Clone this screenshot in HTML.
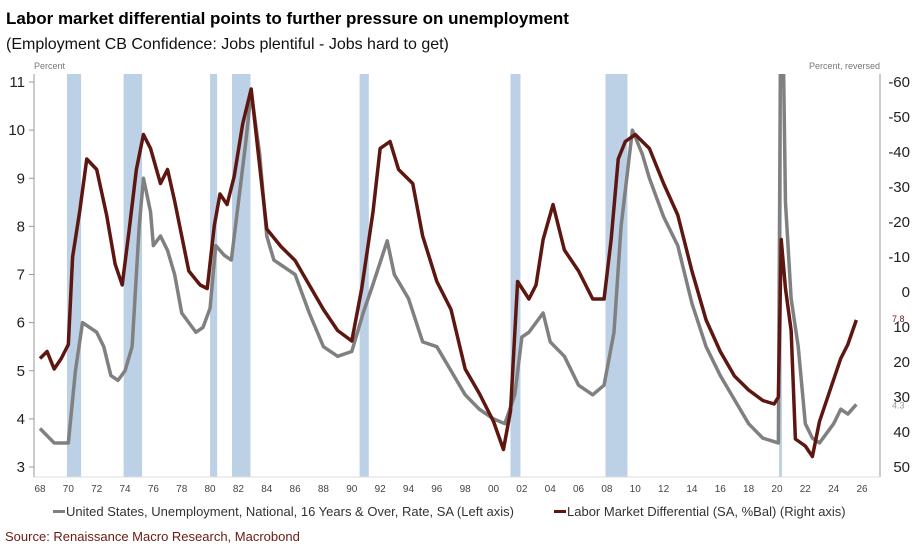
<!DOCTYPE html>
<html><head><meta charset="utf-8">
<style>
body{margin:0;background:#fff;width:916px;height:555px;overflow:hidden;font-family:"Liberation Sans",sans-serif;}
svg{position:absolute;left:0;top:0}
</style></head>
<body>
<svg id="chart" width="916" height="555">
<text x="6" y="24" font-size="17" font-weight="bold" fill="#000">Labor market differential points to further pressure on unemployment</text>
<text x="6" y="49" font-size="16" fill="#111">(Employment CB Confidence: Jobs plentiful - Jobs hard to get)</text>
<text x="34" y="69" font-size="9" fill="#777">Percent</text>
<text x="880" y="69" font-size="9" fill="#777" text-anchor="end">Percent, reversed</text>
<g id="bands"></g>
<g id="axes"></g>
<g id="lines"></g>
<g>
<rect x="53" y="510" width="12" height="3" fill="#808080"/>
<text x="66" y="516" font-size="13" fill="#333">United States, Unemployment, National, 16 Years &amp; Over, Rate, SA (Left axis)</text>
<rect x="554" y="510" width="12" height="3" fill="#5e1710"/>
<text x="567" y="516" font-size="13" fill="#333">Labor Market Differential (SA, %Bal) (Right axis)</text>
</g>
<text x="5" y="541" font-size="13" fill="#6b1a12">Source: Renaissance Macro Research, Macrobond</text>
</svg>
<script>
const recStart=[1969.9,1973.9,1980.0,1981.55,1990.55,2001.2,2007.9,2020.15];
const recEnd=[1970.9,1975.2,1980.5,1982.85,1991.2,2001.9,2009.45,2020.35];
const unempYears=[1968,1969,1970,1970.5,1971,1971.5,1972,1972.5,1973,1973.5,1974,1974.5,1975,1975.3,1975.8,1976,1976.5,1977,1977.5,1978,1978.5,1979,1979.5,1980,1980.4,1981,1981.5,1982,1982.5,1982.9,1983.5,1984,1984.5,1985,1985.5,1986,1987,1988,1989,1990,1990.8,1991.5,1992.5,1993,1994,1995,1996,1997,1998,1999,2000,2000.8,2001.5,2002,2002.5,2003.5,2004,2005,2006,2007,2007.8,2008.5,2009,2009.8,2010.5,2011,2012,2013,2014,2015,2016,2017,2018,2019,2020.1,2020.3,2020.6,2021,2021.5,2022,2022.5,2023,2023.5,2024,2024.5,2025,2025.6];
const unempVals=[3.8,3.5,3.5,5.0,6.0,5.9,5.8,5.5,4.9,4.8,5.0,5.5,8.0,9.0,8.3,7.6,7.8,7.5,7.0,6.2,6.0,5.8,5.9,6.3,7.6,7.4,7.3,8.5,9.7,10.8,9.5,7.8,7.3,7.2,7.1,7.0,6.2,5.5,5.3,5.4,6.2,6.8,7.7,7.0,6.5,5.6,5.5,5.0,4.5,4.2,4.0,3.9,4.5,5.7,5.8,6.2,5.6,5.3,4.7,4.5,4.7,5.8,8.0,10.0,9.5,9.0,8.2,7.6,6.4,5.5,4.9,4.4,3.9,3.6,3.5,14.7,8.5,6.5,5.5,3.9,3.6,3.5,3.7,3.9,4.2,4.1,4.3];
const diffYears=[1968,1968.5,1969,1969.5,1970,1970.3,1970.8,1971.3,1972,1972.7,1973.3,1973.8,1974.3,1974.8,1975.3,1975.8,1976.5,1977,1977.5,1978.5,1979.3,1979.8,1980.3,1980.7,1981.2,1981.7,1982.3,1982.9,1983.5,1984,1985,1986,1987,1988,1989,1990,1990.7,1991.5,1992,1992.7,1993.3,1994.3,1995,1996,1997,1998,1999,2000,2000.7,2001.2,2001.7,2002.5,2003,2003.5,2004.2,2005,2006,2007,2007.8,2008.3,2008.8,2009.3,2010,2011,2012,2013,2014,2015,2016,2017,2018,2019,2019.8,2020.1,2020.3,2020.6,2021,2021.3,2022,2022.5,2023,2023.5,2024,2024.5,2025,2025.6];
const diffVals=[19,17,22,19,15,-10,-23,-38,-35,-22,-8,-2,-18,-35,-45,-41,-31,-35,-26,-6,-2,-1,-19,-28,-25,-33,-48,-58,-36,-18,-13,-9,-2,5,11,14,-1,-23,-41,-43,-35,-31,-16,-3,5,22,29,37,45,34,-3,2,-2,-15,-25,-12,-6,2,2,-15,-38,-43,-45,-41,-31,-22,-6,8,17,24,28,31,32,30,-15,-1,11,42,44,47,37,31,25,19,15,8];
const leftTicks=[3,4,5,6,7,8,9,10,11];
const rightTicks=[-60,-50,-40,-30,-20,-10,0,10,20,30,40,50];
const xTicks=[68,70,72,74,76,78,80,82,84,86,88,90,92,94,96,98,0,2,4,6,8,10,12,14,16,18,20,22,24,26];
const lastDiffLabel="7.8", lastUnempLabel="4.3";

const X0=40,X1=862,Y0=82,Y1=467;
const xs=y=>X0+(y-1968)*(X1-X0)/58;
const yl=v=>Y0+(11-v)*(Y1-Y0)/8;
const yr=v=>Y0+(v+60)*(Y1-Y0)/110;
const NS="http://www.w3.org/2000/svg";
function mk(tag,parent,attrs){const e=document.createElementNS(NS,tag);for(const k in attrs)e.setAttribute(k,attrs[k]);parent.appendChild(e);return e;}
const bands=document.getElementById('bands'),axes=document.getElementById('axes'),lines=document.getElementById('lines');
recStart.forEach((s,i)=>{const r=mk('rect',bands,{x:xs(s),y:74,width:Math.max(2,xs(recEnd[i])-xs(s)),height:Y1+10-74,fill:'#bcd0e6'});

});
const la=mk('line',axes,{x1:34,y1:74,x2:34,y2:Y1+10,stroke:'#bbb','stroke-width':1.5});


const ra=mk('line',axes,{x1:880,y1:74,x2:880,y2:Y1+10,stroke:'#bbb','stroke-width':1.5});


const ba=mk('line',axes,{x1:34,y1:Y1+10,x2:880,y2:Y1+10,stroke:'#ddd','stroke-width':1});


leftTicks.forEach(v=>{const t=mk('text',axes,{x:25,y:yl(v)+5,'font-size':15,'text-anchor':'end',fill:'#222'});t.textContent=v;


mk('line',axes,{x1:29,y1:yl(v),x2:34,y2:yl(v),stroke:'#999'});});
rightTicks.forEach(v=>{const t=mk('text',axes,{x:910,y:yr(v)+5,'font-size':15,'text-anchor':'end',fill:'#222'});t.textContent=v<0?'-'+(-v):v;

});
xTicks.forEach(v=>{const yr_=v>=68?1900+v:2000+v;const t=mk('text',axes,{x:xs(yr_),y:492,'font-size':10,'text-anchor':'middle',fill:'#444'});t.textContent=String(v).padStart(2,'0');

});
const clip=mk('clipPath',document.getElementById('chart'),{id:'pc'});mk('rect',clip,{x:34,y:74,width:846,height:420});
const pu=mk('polyline',lines,{points:unempYears.map((y,i)=>xs(y)+','+yl(unempVals[i])).join(' '),fill:'none',stroke:'#808080','stroke-width':3.5,'stroke-linejoin':'round','clip-path':'url(#pc)'});


const pd=mk('polyline',lines,{points:diffYears.map((y,i)=>xs(y)+','+yr(diffVals[i])).join(' '),fill:'none',stroke:'#5e1710','stroke-width':3.5,'stroke-linejoin':'round','clip-path':'url(#pc)'});


const l1=mk('text',axes,{x:892,y:yr(diffVals[diffVals.length-1])+2,'font-size':9,fill:'#6b1a12'});l1.textContent=lastDiffLabel;


const l2=mk('text',axes,{x:892,y:yl(unempVals[unempVals.length-1])+4,'font-size':9,fill:'#999'});l2.textContent=lastUnempLabel;


</script>
</body></html>
